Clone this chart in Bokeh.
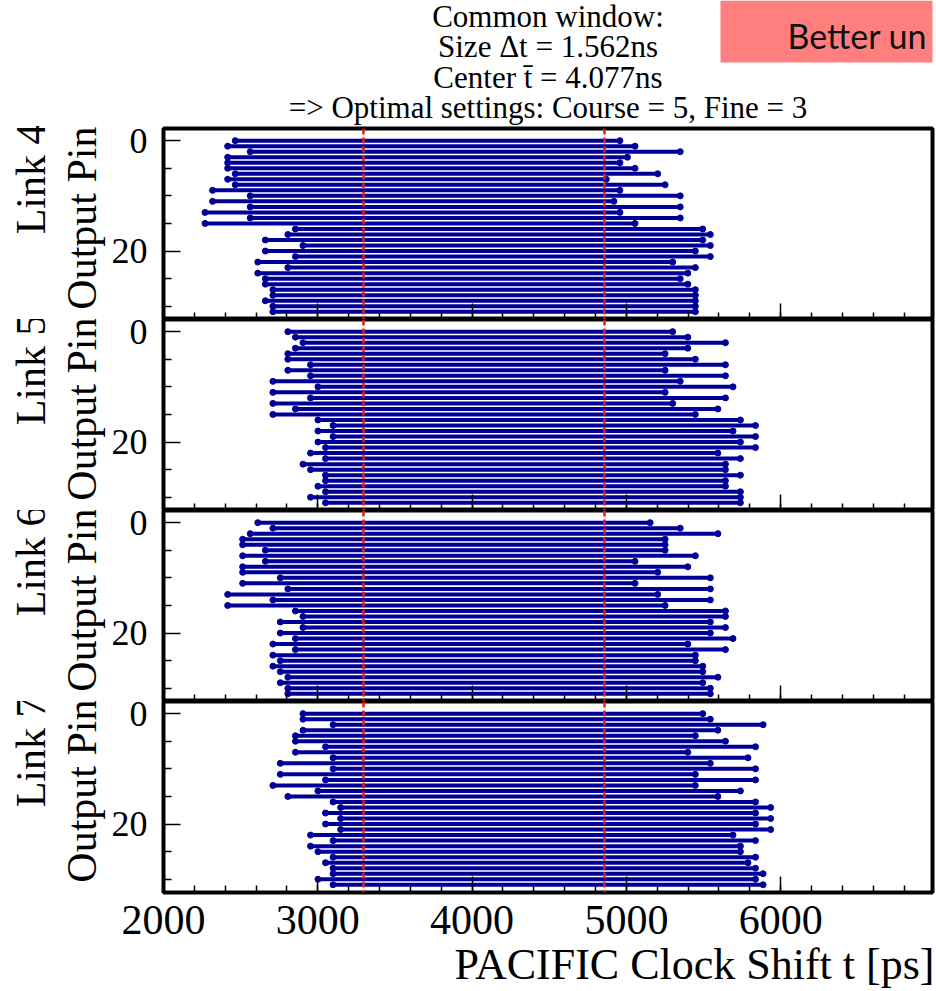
from bokeh.plotting import figure
from bokeh.models import Range1d, FixedTicker, Span, Title
from bokeh.layouts import column
from bokeh.embed import file_html
from bokeh.resources import INLINE
from bokeh.core.properties import value

# ---------------- data ----------------
pins = list(range(32))
link_names = ["Link 4", "Link 5", "Link 6", "Link 7"]

link4_start = [2465, 2416, 2562, 2416, 2416, 2416, 2465, 2416, 2465, 2318, 2562, 2318, 2562, 2269, 2562, 2269,
               2855, 2806, 2660, 2904, 2660, 2855, 2611, 2806, 2611, 2660, 2660, 2709, 2709, 2660, 2709, 2709]
link4_end = [4958, 5056, 5349, 5007, 4958, 5056, 5203, 4870, 5251, 4958, 5349, 4919, 5349, 4958, 5349, 5056,
             5495, 5544, 5495, 5544, 5447, 5544, 5300, 5447, 5398, 5349, 5398, 5447, 5447, 5447, 5447, 5447]

link5_start = [2806, 2855, 2904, 2855, 2806, 2806, 2953, 2806, 2953, 2709, 3001, 2709, 2953, 2709, 2855, 2709,
               3001, 3099, 3001, 3099, 3001, 3050, 2953, 3050, 2904, 2953, 3050, 3050, 3001, 3050, 2953, 3050]
link5_end = [5300, 5398, 5642, 5398, 5251, 5447, 5642, 5251, 5642, 5349, 5691, 5251, 5642, 5300, 5593, 5447,
             5739, 5837, 5691, 5837, 5739, 5837, 5593, 5739, 5642, 5642, 5739, 5642, 5642, 5739, 5739, 5739]

link6_start = [2611, 2709, 2562, 2513, 2513, 2660, 2513, 2660, 2513, 2513, 2757, 2513, 2806, 2416, 2709, 2416,
               2855, 2904, 2757, 2904, 2757, 2855, 2709, 2855, 2709, 2757, 2709, 2757, 2806, 2757, 2806, 2806]
link6_end = [5154, 5349, 5593, 5251, 5251, 5251, 5447, 5056, 5398, 5203, 5544, 5056, 5544, 5203, 5544, 5251,
             5642, 5642, 5544, 5642, 5544, 5691, 5398, 5642, 5447, 5447, 5495, 5495, 5593, 5495, 5544, 5544]

link7_start = [2904, 2904, 3099, 2904, 2855, 2855, 3050, 2855, 3099, 2757, 3099, 2757, 3050, 2709, 3001, 2806,
               3099, 3148, 3050, 3148, 3050, 3148, 2953, 3099, 2953, 3001, 3099, 3050, 3099, 3099, 3001, 3099]
link7_end = [5495, 5544, 5886, 5593, 5447, 5642, 5837, 5398, 5788, 5544, 5837, 5447, 5837, 5447, 5739, 5593,
             5837, 5935, 5837, 5935, 5837, 5935, 5691, 5837, 5739, 5739, 5837, 5788, 5837, 5886, 5837, 5886]

window_center = 4077   # ps
window_size = 1562     # ps

x_ticks = [2000, 3000, 4000, 5000, 6000, 7000]
x_minor_ticks = list(range(2000, 7001, 200))
y_ticks = [0, 20]
y_minor_ticks = [5, 10, 15, 25, 30]

title_lines = ["Common window:",
               "Size \u0394t = 1.562ns",
               "Center t\u0304 = 4.077ns",
               "=> Optimal settings: Course = 5, Fine = 3"]
x_title = "PACIFIC Clock Shift t [ps]"
y_title = "Output Pin"
note_text = "Better un"

# ---------------- style / layout ----------------
SERIF = "Liberation Serif"
BLUE = "#000099"
RED = "#E0201C"
LEFT = 163
FRAME_W = 769
RIGHT = 4
FRAME_H = 191
HEADER_H = 126

xr = Range1d(2000, 6984)

# ---------------- header (page-pixel coordinates) ----------------
hdr = figure(output_backend="svg", toolbar_location=None,
             frame_width=FRAME_W, frame_height=HEADER_H,
             min_border_left=LEFT, min_border_right=RIGHT,
             min_border_top=0, min_border_bottom=0,
             x_range=Range1d(LEFT, LEFT + FRAME_W), y_range=Range1d(HEADER_H, 0),
             x_axis_location=None, y_axis_location=None,
             outline_line_color=None)
hdr.grid.visible = False
hdr.quad(left=[720], right=[940], top=[0], bottom=[62],
         fill_color="#FF7F7F", line_color=None)
hdr.text(x=[787], y=[35], text=[note_text], text_font=value("Lato"),
         text_font_size="34px", text_color="#111111",
         text_align="left", text_baseline="alphabetic")
hdr.text(x=[LEFT + FRAME_W / 2] * 4, y=[16, 46, 77, 107], text=title_lines,
         text_font=value(SERIF), text_font_size="31px", text_color="black",
         text_align="center", text_baseline="alphabetic")

# ---------------- panels ----------------
panels = []
data = [(link4_start, link4_end), (link5_start, link5_end),
        (link6_start, link6_end), (link7_start, link7_end)]
y_top, y_bot = -2.2, 32.4
for i, (name, (st, en)) in enumerate(zip(link_names, data)):
    first = i == 0
    last = i == len(data) - 1
    p = figure(output_backend="svg", toolbar_location=None,
               frame_width=FRAME_W, frame_height=FRAME_H,
               min_border_left=LEFT, min_border_right=RIGHT,
               min_border_top=2 if first else 0,
               min_border_bottom=99 if last else 0,
               x_range=xr, y_range=Range1d(y_bot, y_top),
               outline_line_color="black", outline_line_width=4)
    p.grid.visible = False

    p.segment(x0=st, y0=pins, x1=en, y1=pins, line_color=BLUE, line_width=4)
    p.scatter(x=st, y=pins, size=6, marker="circle", fill_color=BLUE, line_color=BLUE)
    p.scatter(x=en, y=pins, size=6, marker="circle", fill_color=BLUE, line_color=BLUE)

    for loc in (window_center - window_size / 2, window_center + window_size / 2):
        p.add_layout(Span(location=loc, dimension="height", line_color=RED,
                          line_width=2.5, line_dash="6 3"))

    xa = p.xaxis[0]
    xa.ticker = FixedTicker(ticks=x_ticks, minor_ticks=x_minor_ticks)
    xa.axis_line_color = None
    xa.major_tick_in = 16
    xa.major_tick_out = 0
    xa.minor_tick_in = 7
    xa.minor_tick_out = 0
    xa.major_tick_line_width = 1.5
    xa.minor_tick_line_width = 1.5
    if last:
        xa.major_label_text_font = SERIF
        xa.major_label_text_font_size = "42px"
        xa.major_label_text_color = "black"
        xa.major_label_standoff = 13
    else:
        xa.major_label_text_font_size = "0px"
        xa.major_label_text_color = None
        xa.major_label_standoff = 0

    ya = p.yaxis[0]
    ya.ticker = FixedTicker(ticks=y_ticks, minor_ticks=y_minor_ticks)
    ya.axis_line_color = None
    ya.major_tick_in = 17
    ya.major_tick_out = 0
    ya.minor_tick_in = 8
    ya.minor_tick_out = 0
    ya.major_tick_line_width = 1.5
    ya.minor_tick_line_width = 1.5
    ya.major_label_text_font = SERIF
    ya.major_label_text_font_size = "36px"
    ya.major_label_text_color = "black"
    ya.major_label_standoff = 16

    p.add_layout(Title(text=y_title, align="right", offset=-2, standoff=7,
                       text_font=SERIF, text_font_size="42px", text_font_style="normal",
                       text_color="black"), "left")
    p.add_layout(Title(text=name, align="right", offset=-5, standoff=0,
                       text_font=SERIF, text_font_size="42px", text_font_style="normal",
                       text_color="black"), "left")
    if last:
        p.add_layout(Title(text=x_title, align="right", offset=-2, standoff=2,
                           text_font=SERIF, text_font_size="44px", text_font_style="normal",
                           text_color="black"), "below")
    panels.append(p)

layout = column(hdr, *panels)
open("out.html", "w").write(file_html(layout, INLINE))
